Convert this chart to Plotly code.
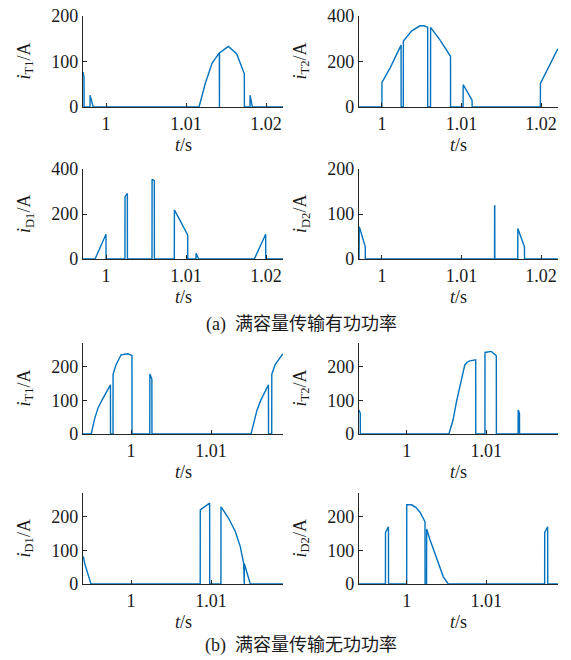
import plotly.graph_objects as go

# ---------------- data ----------------
# (a) full-capacity active power transmission
t_aT1 = [0.99713, 0.99725, 0.99726, 0.99800, 0.99801, 0.99840, 1.01163, 1.01238, 1.01325,
         1.01417, 1.01418, 1.01419, 1.01529, 1.01633, 1.01729, 1.01730, 1.01800, 1.01801,
         1.01829, 1.02220]
i_aT1 = [77, 65, 0, 0, 26, 0, 0, 50, 96, 119, 0, 119, 133, 117, 73, 0, 0, 26, 0, 0]

t_aT2 = [0.99713, 1.00000, 1.00001, 1.00104, 1.00241, 1.00242, 1.00269, 1.00270, 1.00375,
         1.00479, 1.00529, 1.00575, 1.00576, 1.00611, 1.00612, 1.00729, 1.00862, 1.00863,
         1.01020, 1.01021, 1.01133, 1.01134, 1.01991, 1.01992, 1.02210]
i_aT2 = [0, 0, 108, 172, 272, 0, 0, 290, 335, 357, 357, 351, 0, 0, 350, 295, 223, 0,
         0, 98, 30, 0, 0, 104, 256]

t_aD1 = [0.99713, 0.99863, 1.00000, 1.00001, 1.00237, 1.00238, 1.00267, 1.00268, 1.00575,
         1.00576, 1.00604, 1.00605, 1.00854, 1.00855, 1.01021, 1.01022, 1.01125, 1.01126,
         1.01158, 1.01854, 1.01996, 1.01997, 1.02210]
i_aD1 = [0, 0, 110, 0, 0, 277, 291, 0, 0, 354, 348, 0, 0, 218, 107, 0, 0, 25, 0, 0, 110, 0, 0]

t_aD2 = [0.99713, 0.99716, 0.99753, 0.99791, 0.99792, 1.01415, 1.01416, 1.01418, 1.01419,
         1.01707, 1.01708, 1.01750, 1.01791, 1.01792, 1.02210]
i_aD2 = [0, 72, 50, 27, 0, 0, 118, 118, 0, 0, 68, 48, 27, 0, 0]

# (b) full-capacity reactive power transmission
t_bT1 = [0.99400, 0.99503, 0.99545, 0.99586, 0.99627, 0.99743, 0.99744, 0.99775, 0.99776,
         0.99812, 0.99876, 0.99959, 1.00012, 1.00013, 1.00235, 1.00236, 1.00261, 1.00262,
         1.01500, 1.01540, 1.01574, 1.01620, 1.01718, 1.01719, 1.01759, 1.01760, 1.01800,
         1.01897]
i_bT1 = [0, 0, 45, 76, 96, 146, 0, 0, 177, 205, 235, 238, 233, 0, 0, 178, 163, 0,
         0, 42, 70, 99, 146, 0, 0, 177, 205, 238]

t_bT2 = [0.99400, 0.99416, 0.99417, 1.00529, 1.00580, 1.00625, 1.00729, 1.00760, 1.00791,
         1.00866, 1.00867, 1.00982, 1.00983, 1.01062, 1.01125, 1.01126, 1.01399, 1.01400,
         1.01416, 1.01417, 1.01900]
i_bT2 = [71, 61, 0, 0, 40, 96, 205, 213, 217, 220, 0, 0, 242, 245, 232, 0, 0, 71, 61, 0, 0]

t_bD1 = [0.99404, 0.99420, 0.99500, 1.00865, 1.00866, 1.00983, 1.00984, 1.01124, 1.01125,
         1.01220, 1.01304, 1.01366, 1.01408, 1.01409, 1.01416, 1.01417, 1.01491, 1.01900]
i_bD1 = [82, 62, 0, 0, 220, 240, 0, 0, 229, 195, 156, 111, 61, 0, 0, 60, 0, 0]

t_bD2 = [0.99400, 0.99732, 0.99733, 0.99770, 0.99771, 0.99999, 1.00000, 1.00062, 1.00120,
         1.00166, 1.00229, 1.00230, 1.00249, 1.00250, 1.00290, 1.00333, 1.00375, 1.00416,
         1.00458, 1.00520, 1.01732, 1.01733, 1.01770, 1.01771, 1.01900]
i_bD2 = [0, 0, 153, 170, 0, 0, 235, 235, 226, 213, 185, 0, 0, 163, 133, 103, 75, 47,
         22, 0, 0, 153, 170, 0, 0]

# axis labels / ticks
ylabels = ["T1", "T2", "D1", "D2", "T1", "T2", "D1", "D2"]
ymax = [200, 400, 400, 200, 270, 270, 270, 270]
yticks = [[0, 100, 200], [0, 200, 400], [0, 200, 400], [0, 100, 200],
          [0, 100, 200], [0, 100, 200], [0, 100, 200], [0, 100, 200]]
xticks_a = [1.0, 1.01, 1.02]
xticktext_a = ["1", "1.01", "1.02"]
xticks_b = [1.0, 1.01]
xticktext_b = ["1", "1.01"]
xrange_a = [0.997125, 1.022125]
xrange_b = [0.99400, 1.01900]
captions = ["(a)  满容量传输有功功率", "(b)  满容量传输无功功率"]

series = [(t_aT1, i_aT1), (t_aT2, i_aT2), (t_aD1, i_aD1), (t_aD2, i_aD2),
          (t_bT1, i_bT1), (t_bT2, i_bT2), (t_bD1, i_bD1), (t_bD2, i_bD2)]

# ---------------- layout geometry (pixels) ----------------
W, H = 571, 660
# (left, right, top, bottom) of each plotting area
boxes = [(83, 283, 16, 107), (359, 558, 16, 107),
         (83, 283, 169, 259), (359, 558, 169, 259),
         (83, 283, 343, 434), (359, 558, 343, 434),
         (83, 283, 493, 584), (359, 558, 493, 584)]

FONT = "'Liberation Serif', 'Noto Sans CJK SC', serif"
FS = 18
TXT = "#1a1a1a"
AX = "#262626"
BLUE = "rgb(0,114,189)"

fig = go.Figure()
layout = dict(width=W, height=H, margin=dict(l=0, r=0, t=0, b=0),
              paper_bgcolor="white", plot_bgcolor="white", showlegend=False,
              font=dict(family=FONT, size=FS, color=TXT))
annotations = []

for k, ((t, v), (l, r, tp, bt)) in enumerate(zip(series, boxes)):
    n = k + 1
    xa = "x" if n == 1 else f"x{n}"
    ya = "y" if n == 1 else f"y{n}"
    fig.add_trace(go.Scatter(x=t, y=v, mode="lines", xaxis=xa, yaxis=ya,
                             line=dict(color=BLUE, width=1.4), hoverinfo="skip"))
    part_a = k < 4
    xkey = "xaxis" if n == 1 else f"xaxis{n}"
    ykey = "yaxis" if n == 1 else f"yaxis{n}"
    layout[xkey] = dict(domain=[l / W, r / W], anchor=ya,
                        range=xrange_a if part_a else xrange_b,
                        tickvals=xticks_a if part_a else xticks_b,
                        ticktext=xticktext_a if part_a else xticktext_b,
                        ticks="inside", ticklen=4, tickcolor=AX, tickwidth=1,
                        showline=True, linecolor=AX, linewidth=1.2,
                        showgrid=False, zeroline=False, fixedrange=True,
                        automargin=False,
                        tickfont=dict(size=FS, family=FONT, color=TXT))
    layout[ykey] = dict(domain=[1 - bt / H, 1 - tp / H], anchor=xa,
                        range=[0, ymax[k]], tickvals=yticks[k],
                        ticks="inside", ticklen=4, tickcolor=AX, tickwidth=1,
                        showline=True, linecolor=AX, linewidth=1.2,
                        showgrid=False, zeroline=False, fixedrange=True,
                        automargin=False,
                        tickfont=dict(size=FS, family=FONT, color=TXT))
    # y-axis title
    annotations.append(dict(
        text=f"<i>i</i><sub>{ylabels[k]}</sub>/A", textangle=-90,
        x=(l - 58) / W, y=1 - ((tp + bt) / 2) / H, xref="paper", yref="paper",
        xanchor="center", yanchor="middle", showarrow=False,
        font=dict(size=FS, family=FONT, color=TXT)))
    # x-axis title
    annotations.append(dict(
        text="<i>t</i>/s", x=((l + r) / 2) / W, y=1 - (bt + 38) / H,
        xref="paper", yref="paper", xanchor="center", yanchor="middle",
        showarrow=False, font=dict(size=FS, family=FONT, color=TXT)))

for cap, yc in zip(captions, [324, 645]):
    annotations.append(dict(text=cap, x=301 / W, y=1 - yc / H, xref="paper", yref="paper",
                            xanchor="center", yanchor="middle", showarrow=False,
                            font=dict(size=FS, family=FONT, color=TXT)))

layout["annotations"] = annotations
fig.update_layout(**layout)
fig.write_html("out.html", config={"displayModeBar": False},
               post_script="document.body.style.margin='0';document.body.style.overflow='hidden';")
